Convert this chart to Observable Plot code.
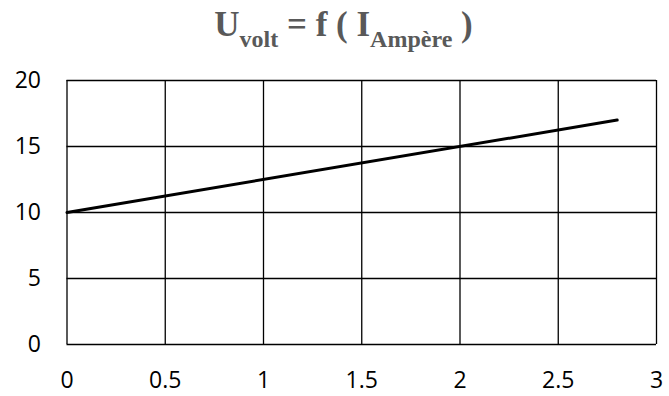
<!DOCTYPE html>
<html>
<head>
<meta charset="utf-8">
<script src="https://cdn.jsdelivr.net/npm/d3@7"></script>
<script src="https://cdn.jsdelivr.net/npm/@observablehq/plot@0.6"></script>
<style>
  html, body { margin: 0; padding: 0; background: #fff; }
  #chart { width: 669px; }
  .title {
    height: 62px;
    text-align: center;
    font-family: "Liberation Serif", "Times New Roman", serif;
    font-weight: bold;
    font-size: 35px;
    color: #595959;
    line-height: 50px;
    padding-left: 18px;
    box-sizing: border-box;
    white-space: nowrap;
  }
  .title sub { font-size: 24px; vertical-align: -11px; line-height: 0; }
  svg { display: block; }
</style>
</head>
<body>
<div id="chart">
  <div class="title">U<sub>volt</sub> = f ( I<sub>Ampère</sub> )</div>
</div>
<script>
// Current (A) and voltage (V)
const current = [0, 2.8];
const voltage = [10, 17];
const xTicks = [0, 0.5, 1, 1.5, 2, 2.5, 3];
const yTicks = [0, 5, 10, 15, 20];

const data = current.map((c, i) => ({ I: c, U: voltage[i] }));

const plot = Plot.plot({
  width: 669,
  height: 334,
  marginTop: 18,
  marginBottom: 52,
  marginLeft: 66.5,
  marginRight: 13,
  style: { fontFamily: "'Open Sans', 'Liberation Sans', sans-serif", fontSize: "23px", color: "#000" },
  x: { domain: [0, 3], label: null },
  y: { domain: [0, 20], label: null },
  marks: [
    Plot.gridX(xTicks, { stroke: "#000", strokeOpacity: 1, strokeWidth: 1.3 }),
    Plot.gridY(yTicks, { stroke: "#000", strokeOpacity: 1, strokeWidth: 1.3 }),
    Plot.axisX(xTicks, { tickSize: 0, tickPadding: 27, fill: "#000", fontSize: 23, tickFormat: d => String(d), label: null }),
    Plot.axisY(yTicks, { tickSize: 0, tickPadding: 26, fill: "#000", fontSize: 23, tickFormat: d => String(d), label: null }),
    Plot.line(data, { x: "I", y: "U", stroke: "#000", strokeWidth: 3 })
  ]
});
document.getElementById("chart").appendChild(plot);
</script>
</body>
</html>
